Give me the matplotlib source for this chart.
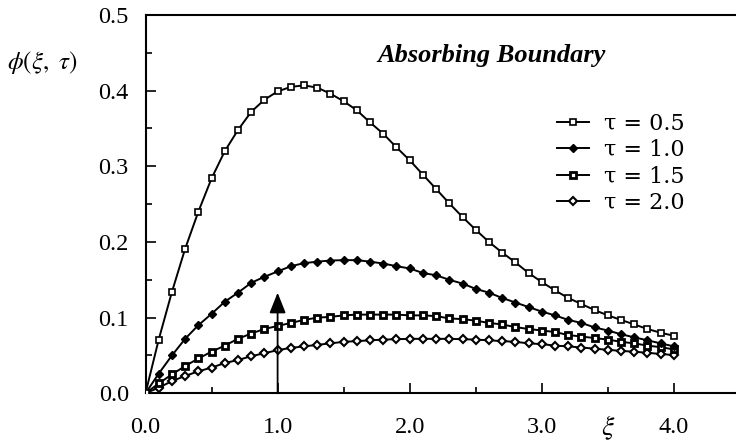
import matplotlib
matplotlib.use("Agg")
import matplotlib.pyplot as plt
from matplotlib.ticker import MultipleLocator, FormatStrFormatter

plt.rcParams['font.family'] = ['Liberation Serif', 'DejaVu Serif']
plt.rcParams['mathtext.fontset'] = 'stix'

xi = [0.0, 0.1, 0.2, 0.3, 0.4, 0.5, 0.6, 0.7, 0.8, 0.9, 1.0,
      1.1, 1.2, 1.3, 1.4, 1.5, 1.6, 1.7, 1.8, 1.9, 2.0,
      2.1, 2.2, 2.3, 2.4, 2.5, 2.6, 2.7, 2.8, 2.9, 3.0,
      3.1, 3.2, 3.3, 3.4, 3.5, 3.6, 3.7, 3.8, 3.9, 4.0]

phi_tau05 = [0.0, 0.071, 0.134, 0.191, 0.240, 0.284, 0.320, 0.348, 0.372, 0.388, 0.399,
             0.405, 0.407, 0.404, 0.396, 0.386, 0.374, 0.358, 0.343, 0.325, 0.308,
             0.289, 0.270, 0.251, 0.233, 0.216, 0.200, 0.186, 0.173, 0.159, 0.147,
             0.136, 0.126, 0.118, 0.110, 0.103, 0.097, 0.091, 0.085, 0.080, 0.076]

phi_tau10 = [0.0, 0.026, 0.050, 0.072, 0.090, 0.105, 0.121, 0.133, 0.146, 0.154, 0.161,
             0.168, 0.172, 0.174, 0.1755, 0.176, 0.176, 0.174, 0.1715, 0.168, 0.165,
             0.159, 0.156, 0.150, 0.145, 0.138, 0.133, 0.126, 0.120, 0.114, 0.108,
             0.103, 0.097, 0.093, 0.087, 0.083, 0.078, 0.074, 0.070, 0.066, 0.062]

phi_tau15 = [0.0, 0.013, 0.025, 0.036, 0.046, 0.055, 0.063, 0.072, 0.079, 0.085, 0.089,
             0.093, 0.097, 0.100, 0.101, 0.103, 0.104, 0.104, 0.104, 0.104, 0.103,
             0.103, 0.102, 0.099, 0.098, 0.096, 0.093, 0.091, 0.0875, 0.085, 0.083,
             0.081, 0.077, 0.075, 0.073, 0.071, 0.068, 0.066, 0.063, 0.061, 0.058]

phi_tau20 = [0.0, 0.0075, 0.016, 0.023, 0.029, 0.034, 0.040, 0.044, 0.049, 0.053, 0.057,
             0.060, 0.062, 0.064, 0.066, 0.068, 0.069, 0.070, 0.071, 0.0715, 0.072,
             0.072, 0.072, 0.072, 0.0715, 0.071, 0.070, 0.069, 0.068, 0.066, 0.065,
             0.063, 0.062, 0.0605, 0.059, 0.0575, 0.056, 0.055, 0.0535, 0.052, 0.0505]

labels = ["τ = 0.5", "τ = 1.0", "τ = 1.5", "τ = 2.0"]
x_ticks = [0.0, 1.0, 2.0, 3.0, 4.0]
y_ticks = [0.0, 0.1, 0.2, 0.3, 0.4, 0.5]
arrow_x = 1.0
arrow_y = [0.0, 0.133]

fig = plt.figure(figsize=(7.36, 4.43), dpi=100)
ax = fig.add_axes([145.5 / 736, 49.7 / 443, 1 - 145.5 / 736, (428 - 49.7) / 443])

lw = 1.4
ax.plot(xi, phi_tau05, color='black', lw=lw, marker='s', ms=4.6, mfc='white',
        mec='black', mew=1.2, label=labels[0], zorder=5)
ax.plot(xi, phi_tau10, color='black', lw=lw, marker='D', ms=4.4, mfc='black',
        mec='black', mew=1.0, label=labels[1], zorder=4)
ax.plot(xi, phi_tau15, color='black', lw=lw, marker='s', ms=5.0, mfc='white',
        mec='black', mew=2.0, label=labels[2], zorder=3)
ax.plot(xi, phi_tau20, color='black', lw=lw, marker='D', ms=4.4, mfc='white',
        mec='black', mew=1.5, label=labels[3], zorder=2)

ax.annotate('', xy=(arrow_x, arrow_y[1]), xytext=(arrow_x, arrow_y[0]),
            arrowprops=dict(arrowstyle='-|>,head_length=1.25,head_width=0.5',
                            color='black', lw=1.3, shrinkA=0, shrinkB=0),
            zorder=6)

ax.set_xlim(0, 4.47)
ax.set_ylim(0, 0.5)
ax.set_xticks(x_ticks)
ax.set_yticks(y_ticks)
ax.xaxis.set_major_formatter(FormatStrFormatter('%.1f'))
ax.yaxis.set_major_formatter(FormatStrFormatter('%.1f'))
ax.xaxis.set_minor_locator(MultipleLocator(0.5))
ax.yaxis.set_minor_locator(MultipleLocator(0.05))
ax.tick_params(which='both', direction='in', top=False, right=False, width=1.2,
               labelsize=17.5)
ax.tick_params(axis='x', which='major', length=7, pad=17)
ax.tick_params(axis='y', which='major', length=7, pad=12)
ax.tick_params(which='minor', length=4)
for s in ['left', 'bottom', 'top']:
    ax.spines[s].set_linewidth(1.5)
ax.spines['right'].set_visible(False)

ax.text(2.62, 0.447, 'Absorbing Boundary', fontsize=19, fontweight='bold',
        fontstyle='italic', ha='center', va='center')

fig.text(7 / 736, (443 - 63) / 443, r'$\phi(\xi,\ \tau)$', fontsize=18,
         ha='left', va='center')
fig.text(608 / 736, (443 - 428) / 443, r'$\xi$', fontsize=20, ha='center',
         va='center')

leg = ax.legend(loc='upper left', bbox_to_anchor=(557 / 736, (443 - 112.5) / 443),
                bbox_transform=fig.transFigure, frameon=False,
                prop={'family': 'DejaVu Serif', 'size': 16},
                handlelength=1.45, handletextpad=0.65, labelspacing=0.2,
                borderpad=0, borderaxespad=0)

fig.savefig('out.png', dpi=100)
